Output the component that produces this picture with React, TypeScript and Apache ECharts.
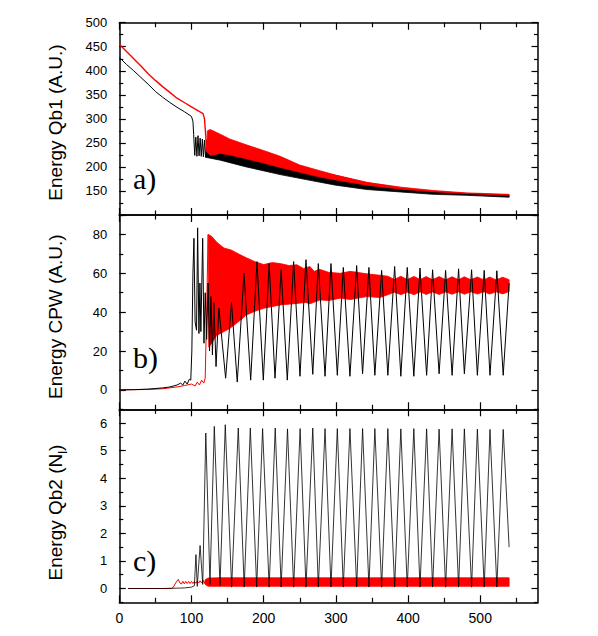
import React, { useEffect, useRef } from 'react';
import * as echarts from 'echarts';

// ---------- axis ticks / labels ----------
const xMajor = [0, 100, 200, 300, 400, 500];
const xMinor = [50, 150, 250, 350, 450, 550];
const qb1Major = [100, 150, 200, 250, 300, 350, 400, 450, 500];
const qb1Labels = [150, 200, 250, 300, 350, 400, 450, 500];
const qb1Minor = [125, 175, 225, 275, 325, 375, 425, 475];
const cpwMajor = [0, 20, 40, 60, 80];
const cpwMinor = [-10, 10, 30, 50, 70, 90];
const qb2Major = [0, 1, 2, 3, 4, 5, 6];
const qb2Minor = [-0.5, 0.5, 1.5, 2.5, 3.5, 4.5, 5.5, 6.5];

// ---------- panel a: Energy Qb1 ----------
const qb1RedLine: [number, number][] = [
  [0, 455], [10, 440], [20, 425], [30, 410], [40, 394], [50, 380], [60, 367], [70, 355], [80, 343],
  [90, 334], [100, 325], [110, 316], [116, 311], [118, 300], [119.5, 270], [121, 232],
];
const qb1RedUpper: [number, number][] = [
  [121, 232], [122, 275], [126, 278], [140, 268], [153, 258], [176, 246], [200, 234], [223, 222], [250, 204],
  [278, 192], [300, 183], [343, 168], [389, 158], [435, 151], [481, 146], [540, 143],
];
const qb1RedLower: [number, number][] = [
  [121, 232], [126, 224], [140, 228], [153, 225], [176, 217], [200, 208], [223, 199], [250, 189],
  [278, 179], [300, 173], [343, 162], [389, 154], [435, 148.5], [481, 144.5], [540, 141],
];
const qb1BlackLine: [number, number][] = [
  [0, 428], [10, 413], [20, 400], [30, 386], [40, 372], [50, 357], [60, 345], [70, 334], [80, 324],
  [90, 315], [100, 305], [102, 295], [103, 268], [104.5, 224], [106, 262], [107.5, 222], [109, 265],
  [110.5, 223], [112, 260], [113.5, 222], [115, 258], [116.5, 221], [118, 256], [119.5, 220],
];
const qb1BlackUpper: [number, number][] = [
  [119.5, 220], [121, 256], [140, 250], [176, 230], [223, 207], [268, 192], [300, 182], [343, 167],
  [389, 156], [435, 149], [481, 145], [540, 141.5],
];
const qb1BlackLower: [number, number][] = [
  [119.5, 220], [140, 214], [176, 200], [223, 184], [268, 171], [300, 162], [343, 153], [389, 148],
  [435, 143], [481, 141], [540, 137],
];

// ---------- panel b: Energy CPW ----------
const cpwRedLine: [number, number][] = [
  [0, 0], [40, 0.2], [60, 0.6], [80, 1.5], [90, 2.2], [100, 3], [105, 2], [108, 4], [111, 2.5],
  [114, 5], [117, 3.5], [119, 6], [121, 40], [123, 80],
];
const cpwRedUpper: [number, number][] = [
  [123, 80], [128, 79], [135, 76], [145, 73], [155, 72], [165, 70], [176, 68], [188, 66], [200, 64.5],
  [212, 65.5], [223, 65], [235, 64], [246, 64.4], [255, 62.5], [264, 63.5], [270, 61], [278, 62],
  [290, 60.5], [306, 60], [320, 61], [343, 59.7], [361, 59], [372, 58.5], [381, 56.8], [390, 58.5],
  [399, 56.8], [408, 58.4], [417, 56.8], [425, 58.3], [434, 56.7], [443, 58.3], [452, 56.7],
  [461, 58.2], [470, 56.7], [478, 58.2], [487, 56.7], [496, 58.1], [505, 56.6], [513, 58.1],
  [522, 56.6], [531, 58], [540, 56.7],
];
const cpwRedLower: [number, number][] = [
  [123, 80], [124, 22], [126, 23], [135, 28], [145, 30], [153, 31.6], [165, 35], [176, 38.5],
  [188, 40.5], [200, 42], [223, 43.7], [246, 44.5], [258, 45], [264, 44.3], [278, 46.3], [290, 46],
  [306, 47.2], [320, 46.5], [343, 48], [361, 47.5], [372, 49], [381, 50.3], [390, 49], [399, 50.3],
  [408, 49], [417, 50.4], [425, 49.1], [434, 50.4], [443, 49.1], [452, 50.4], [461, 49.2], [470, 50.5],
  [478, 49.2], [487, 50.5], [496, 49.3], [505, 50.5], [513, 49.3], [522, 50.5], [531, 49.4], [540, 50.6],
];
const cpwBlackLine: [number, number][] = [
  [0, 0], [20, 0.1], [40, 0.4], [60, 1], [70, 1.5], [80, 2.5], [85, 3.5], [88, 2.5], [91, 4.5],
  [94, 3], [97, 5.5], [99, 5], [100.5, 20], [102, 60], [103.4, 78], [105, 35], [107, 30.7],
  [108.5, 83.4], [110.3, 29], [111.7, 55], [113, 30], [115.5, 78], [117.3, 24], [119, 50], [121, 26],
  [123, 55], [125, 20], [127, 48], [129, 18], [131, 45], [134, 12], [138, 42], [147.3, 6],
  [155.4, 45], [163.4, 4], [172.7, 60], [182, 5], [190.7, 66], [199.5, 5], [207.6, 65], [215.7, 6],
  [224.2, 62], [232.7, 5], [241.5, 66], [250.3, 7], [258.6, 67], [268, 8], [275.7, 65], [285, 7],
  [293.2, 65], [302, 7.5], [310.3, 63], [319.5, 7], [328.8, 64], [337, 8.3], [345.8, 63], [354, 7.5],
  [363.4, 61.5], [372, 7.5], [381.4, 63.5], [390, 7], [398.9, 63], [408, 7], [416.5, 62.7],
  [425.7, 7.5], [434, 61.8], [443, 8.3], [452, 61.5], [461, 7.5], [470, 62.3], [478, 8.3],
  [488, 61.8], [496, 7.5], [505.5, 61.5], [513.5, 7.5], [523, 61.3], [531.8, 7.5], [540, 55],
];

// ---------- panel c: Energy Qb2 ----------
const qb2RedLine: [number, number][] = [
  [12, 0], [72, 0], [75, 0.05], [78, 0.2], [81.7, 0.33], [84, 0.2], [86, 0.16], [88, 0.26], [90, 0.17],
  [92, 0.26], [94, 0.18], [96, 0.26], [98, 0.18], [100, 0.26], [102, 0.18], [104, 0.26], [106, 0.19],
  [108, 0.27], [110, 0.2], [112, 0.28], [114, 0.2], [116, 0.3], [118, 0.2],
];
const qb2RedUpper: [number, number][] = [[118, 0.2], [119, 0.32], [123, 0.38], [140, 0.39], [540, 0.39]];
const qb2RedLower: [number, number][] = [[118, 0.2], [119, 0.15], [123, 0.08], [540, 0.08]];
const qb2BlackLine: [number, number][] = [
  [12, 0], [60, 0], [90, 0.02], [100, 0.05], [104, 0.1], [106.2, 1.23], [108, 0.08], [111.9, 1.56],
  [115.6, 0.15], [119.8, 5.64], [125.6, 0.15], [131.6, 5.88], [139.5, 0.1], [146.8, 5.94],
  [155.6, 0.05], [164.8, 5.82], [173, 0.05], [181.5, 5.82], [190.3, 0.05], [198.5, 5.8], [207.6, 0.05],
  [216, 5.82], [224.2, 0.05], [233, 5.79], [241.5, 0.05], [250.5, 5.8], [258.6, 0.05], [268, 5.82],
  [275.7, 0.05], [285, 5.8], [293.2, 0.05], [302, 5.8], [310.3, 0.05], [319.5, 5.8], [328.8, 0.05],
  [337, 5.8], [345.8, 0.05], [354, 5.8], [363.4, 0.05], [372, 5.8], [381.4, 0.05], [390, 5.79],
  [398.9, 0.05], [408, 5.8], [416.5, 0.05], [425.7, 5.79], [434, 0.05], [443, 5.78], [452, 0.05],
  [461, 5.79], [470, 0.05], [478, 5.79], [488, 0.05], [496, 5.78], [505.5, 0.05], [513.5, 5.77],
  [523, 0.05], [531.8, 5.77], [540, 1.5],
];

const FONT = '"Liberation Sans", Arial, sans-serif';
const SERIF = '"Liberation Serif", "Times New Roman", serif';
const RED = '#ff0000';
const BLACK = '#000000';

const GRID_LEFT = 119.3;
const GRID_WIDTH = 418.7;
const GRIDS = [
  { top: 22.7, height: 192.3 },
  { top: 215, height: 194.3 },
  { top: 409.3, height: 193 },
];
const Y_RANGES: [number, number][] = [[100, 500], [-10, 90], [-0.5, 6.5]];
const Y_MAJOR = [qb1Major, cpwMajor, qb2Major];
const Y_LABELS = [qb1Labels, cpwMajor, qb2Major];
const Y_MINOR = [qb1Minor, cpwMinor, qb2Minor];

const LINE = { color: '#000', width: 1.5 };
const TICK = { color: '#000', width: 1.2 };

function xAxesFor(g: number, withLabels: boolean) {
  const mk = (pos: string, ticks: number[], len: number, lab: boolean, line: boolean) => ({
    type: 'value', gridIndex: g, min: 0, max: 580, position: pos,
    splitLine: { show: false },
    axisLine: { show: line, onZero: false, lineStyle: LINE },
    axisTick: { show: true, inside: true, length: len, customValues: ticks, lineStyle: TICK },
    axisLabel: lab
      ? { show: true, customValues: xMajor, fontSize: 14, color: '#000', margin: 9, fontFamily: FONT }
      : { show: false },
  });
  return [
    mk('bottom', xMajor, 7, withLabels, true),
    mk('bottom', xMinor, 4.5, false, false),
    mk('top', xMajor, 7, false, true),
    mk('top', xMinor, 4.5, false, false),
  ];
}

function yAxesFor(g: number) {
  const [min, max] = Y_RANGES[g];
  const mk = (pos: string, ticks: number[], len: number, lab: boolean, line: boolean) => ({
    type: 'value', gridIndex: g, min, max, position: pos,
    splitLine: { show: false },
    axisLine: { show: line, onZero: false, lineStyle: LINE },
    axisTick: { show: true, inside: true, length: len, customValues: ticks, lineStyle: TICK },
    axisLabel: lab
      ? { show: true, customValues: Y_LABELS[g], fontSize: 13, color: '#000', margin: 12, fontFamily: FONT }
      : { show: false },
  });
  return [
    mk('left', Y_MAJOR[g], 6.5, true, true),
    mk('left', Y_MINOR[g], 4, false, false),
    mk('right', Y_MAJOR[g], 6.5, false, true),
    mk('right', Y_MINOR[g], 4, false, false),
  ];
}

function lineSeries(g: number, data: [number, number][], color: string, width: number) {
  return {
    type: 'line', xAxisIndex: g * 4, yAxisIndex: g * 4, data,
    showSymbol: false, symbol: 'none', silent: true,
    lineStyle: { color, width }, clip: true,
  };
}

function bandSeries(g: number, upper: [number, number][], lower: [number, number][], color: string) {
  return {
    type: 'custom', xAxisIndex: g * 4, yAxisIndex: g * 4, coordinateSystem: 'cartesian2d',
    data: [upper[0]], silent: true, clip: true,
    renderItem: (_params: any, api: any) => {
      const pts = upper.map((p) => api.coord(p)).concat(lower.slice().reverse().map((p) => api.coord(p)));
      return { type: 'polygon', shape: { points: pts }, style: { fill: color, stroke: color, lineWidth: 0.8 } };
    },
  };
}

export default function App() {
  const ref = useRef<HTMLDivElement>(null);
  useEffect(() => {
    if (!ref.current) return;
    const chart = echarts.init(ref.current, undefined, { renderer: 'svg' });
    const grids = GRIDS.map((g) => ({
      left: GRID_LEFT, width: GRID_WIDTH, top: g.top, height: g.height, containLabel: false, outerBoundsMode: 'none',
    }));
    const xAxis = [...xAxesFor(0, false), ...xAxesFor(1, false), ...xAxesFor(2, true)];
    const yAxis = [...yAxesFor(0), ...yAxesFor(1), ...yAxesFor(2)];
    const series = [
      lineSeries(0, qb1BlackLine, BLACK, 1),
      bandSeries(0, qb1BlackUpper, qb1BlackLower, BLACK),
      lineSeries(0, qb1RedLine, RED, 1.4),
      bandSeries(0, qb1RedUpper, qb1RedLower, RED),
      lineSeries(1, cpwRedLine, RED, 1),
      bandSeries(1, cpwRedUpper, cpwRedLower, RED),
      lineSeries(1, cpwBlackLine, BLACK, 1),
      lineSeries(2, qb2RedLine, RED, 1),
      bandSeries(2, qb2RedUpper, qb2RedLower, RED),
      lineSeries(2, qb2BlackLine, BLACK, 0.8),
    ];
    const nameStyle = { fontSize: 19, fontFamily: FONT, fill: '#000', align: 'center', verticalAlign: 'middle' };
    const letterStyle = { fontSize: 30, fontFamily: SERIF, fill: '#000', align: 'left', verticalAlign: 'middle' };
    chart.setOption({
      animation: false,
      backgroundColor: '#fff',
      grid: grids,
      xAxis,
      yAxis,
      series,
      graphic: [
        { type: 'text', x: 55, y: 122.5, rotation: Math.PI / 2, style: { ...nameStyle, text: 'Energy Qb1 (A.U.)' } },
        { type: 'text', x: 55, y: 316.7, rotation: Math.PI / 2, style: { ...nameStyle, text: 'Energy CPW (A.U.)' } },
        {
          type: 'text', x: 55, y: 512.5, rotation: Math.PI / 2,
          style: {
            ...nameStyle,
            text: '{a|Energy Qb2 (N}{s|l}{a|)}',
            rich: {
              a: { fontSize: 19, fontFamily: FONT, lineHeight: 28 },
              s: { fontSize: 13, fontFamily: FONT, lineHeight: 13, verticalAlign: 'bottom' },
            },
          },
        },
        { type: 'text', x: 133, y: 178, style: { ...letterStyle, text: 'a)' } },
        { type: 'text', x: 133, y: 357.5, style: { ...letterStyle, text: 'b)' } },
        { type: 'text', x: 133, y: 560.5, style: { ...letterStyle, text: 'c)' } },
      ],
    });
    return () => chart.dispose();
  }, []);
  return <div ref={ref} style={{ position: 'fixed', left: 0, top: 0, width: 598, height: 636 }} />;
}
